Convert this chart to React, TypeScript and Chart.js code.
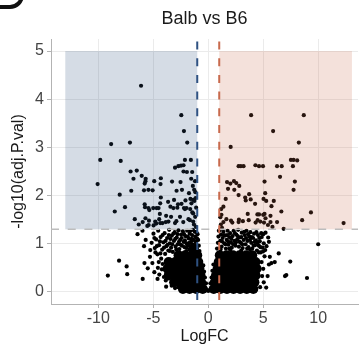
import React, { useEffect, useRef } from 'react';
import { Chart, registerables } from 'chart.js';

Chart.register(...registerables);

const TITLE = 'Balb vs B6';
const X_LABEL = 'LogFC';
const Y_LABEL = '-log10(adj.P.val)';
const X_TICKS = [-10, -5, 0, 5, 10];
const Y_TICKS = [0, 1, 2, 3, 4, 5];
const X_RANGE = [-14.3, 13.62];
const Y_RANGE = [-0.25, 5.25];
const FC_CUT = [-1, 1];
const P_CUT = 1.3;
// [xmin, xmax, ymin, ymax]
const DOWN_BOX = [-13, -1, 1.3, 5];
const UP_BOX = [1, 13.07, 1.3, 5];

// significant, down-regulated (blue box)
const downPoints: [number, number][] = [
  [-6.11, 4.28], [-2.45, 3.67], [-2.21, 3.34], [-8.83, 3.07], [-7.12, 3.1], [-1.91, 3.1],
  [-9.82, 2.74], [-7.96, 2.72], [-2.12, 2.74], [-1.58, 2.74],
  [-3.02, 2.58], [-2.72, 2.61], [-2.48, 2.62], [-2.25, 2.63],
  [-7.06, 2.5], [-6.5, 2.52], [-2.25, 2.5], [-1.94, 2.49], [-1.46, 2.49],
  [-6.8, 2.35], [-6.05, 2.41], [-5.69, 2.35], [-5.71, 2.3], [-5.78, 2.25], [-4.91, 2.3],
  [-4.31, 2.36], [-4.34, 2.24], [-3.29, 2.29], [-2.52, 2.28], [-1.55, 2.35],
  [-10.06, 2.24], [-7.0, 2.1], [-5.84, 2.11], [-5.44, 2.12], [-5.06, 2.11], [-2.88, 2.1],
  [-2.39, 2.12], [-1.28, 2.12], [-1.17, 2.07],
  [-8.05, 2.02], [-4.31, 1.96], [-7.57, 1.76], [-8.5, 1.67],
  [-3.65, 1.87], [-3.11, 1.91], [-2.75, 1.82], [-2.07, 1.9], [-1.62, 1.93], [-1.37, 1.91],
  [-5.78, 1.82], [-5.75, 1.76], [-5.44, 1.74], [-5.0, 1.74], [-4.7, 1.74], [-4.52, 1.74],
  [-3.44, 1.77], [-2.81, 1.75], [-2.21, 1.74],
  [-6.68, 1.51], [-6.32, 1.4], [-5.96, 1.45], [-5.71, 1.53], [-5.39, 1.48], [-5.54, 1.37],
  [-4.97, 1.38], [-4.73, 1.42], [-4.46, 1.51], [-4.16, 1.43], [-3.86, 1.45], [-3.38, 1.56],
  [-2.9, 1.47], [-2.57, 1.56], [-2.27, 1.45], [-1.8, 1.51], [-1.37, 1.46], [-1.19, 1.56],
  [-4.4, 1.62], [-3.83, 1.58], [-2.43, 1.83], [-2.12, 1.72], [-1.64, 1.72], [-1.26, 1.89],
  [-5.36, 1.7], [-4.37, 1.84], [-3.17, 1.74], [-1.98, 1.74], [-1.53, 1.84], [-1.37, 1.63],
  [-1.67, 1.49], [-3.02, 1.43], [-3.62, 1.46], [-4.37, 1.43], [-4.82, 1.46], [-5.42, 1.39],
  [-1.12, 1.35], [-1.3, 1.4], [-1.1, 1.75], [-1.45, 1.65], [-1.15, 1.95], [-1.4, 2.2],
  [-1.75, 2.05], [-1.2, 2.3],
];

// significant, up-regulated (red box)
const upPoints: [number, number][] = [
  [3.9, 3.67], [8.69, 3.67], [5.9, 3.34], [8.24, 3.1], [2.04, 3.01],
  [7.52, 2.74], [7.76, 2.74], [8.09, 2.73], [7.7, 2.61],
  [2.76, 2.61], [2.96, 2.61], [3.21, 2.61], [4.29, 2.63], [4.62, 2.61], [4.98, 2.61],
  [6.26, 2.61], [6.68, 2.61], [6.53, 2.39], [5.12, 2.29], [7.88, 2.29],
  [1.71, 2.28], [2.01, 2.25], [2.34, 2.3], [2.55, 2.26], [2.82, 2.2],
  [1.8, 2.14], [2.37, 2.12], [2.76, 2.01], [5.18, 2.05], [7.76, 2.12], [3.72, 2.03],
  [3.36, 1.96], [3.41, 1.9], [3.86, 1.92], [1.59, 1.93], [4.26, 1.83],
  [5.03, 1.93], [5.27, 1.89], [5.96, 1.89], [5.75, 1.78], [1.38, 1.77], [1.18, 1.72],
  [6.65, 1.67], [9.34, 1.65], [8.54, 1.49], [12.31, 1.43],
  [1.2, 1.6], [1.65, 1.51], [1.38, 1.45], [2.07, 1.48], [2.19, 1.44], [2.79, 1.5],
  [2.76, 1.45], [3.15, 1.47], [3.59, 1.62], [3.68, 1.49], [4.47, 1.61], [4.62, 1.61],
  [5.0, 1.6], [5.12, 1.62], [5.21, 1.53], [4.49, 1.49], [4.31, 1.44], [4.73, 1.46],
  [5.07, 1.44], [5.66, 1.58], [5.66, 1.45], [6.26, 1.45], [6.86, 1.31], [5.84, 1.35],
  [5.43, 1.39], [1.1, 1.55], [1.15, 1.4], [1.25, 1.33],
];

// not significant, left side: scattered points and the ragged top of the cloud
const nsLeft: [number, number][] = [
  [-8.11, 0.65], [-7.42, 0.53], [-9.13, 0.34], [-7.37, 0.37], [-5.96, 0.27], [-4.61, 0.27],
  [-3.83, 0.11], [-3.02, 0.08], [-6.43, 1.2], [-5.98, 1.27], [-5.69, 1.08], [-5.84, 0.95],
  [-5.8, 0.6], [-5.5, 0.49], [-5.27, 0.87], [-5.3, 0.73], [-5.08, 0.6], [-4.9, 0.41],
  [-5.15, 1.02], [-4.98, 1.21], [-4.86, 0.91], [-4.74, 1.09], [-4.62, 0.78], [-4.55, 1.27],
  [-4.47, 0.97], [-4.33, 1.14], [-4.28, 0.69], [-4.19, 0.88], [-4.08, 1.03], [-3.97, 1.22],
  [-3.92, 0.79], [-3.81, 0.95], [-3.74, 1.12], [-3.63, 0.86], [-3.55, 1.29], [-3.49, 1.01],
  [-3.38, 0.92], [-3.31, 1.17], [-3.22, 0.83], [-3.12, 1.06], [-3.05, 1.24], [-2.97, 0.94],
  [-2.86, 1.13], [-2.78, 0.99], [-2.71, 1.28], [-2.63, 0.89], [-2.55, 1.08], [-2.47, 1.19],
  [-2.39, 0.96], [-2.31, 1.26], [-2.24, 1.04], [-2.15, 0.93], [-2.08, 1.16], [-1.99, 1.01],
  [-1.92, 1.27], [-1.84, 0.97], [-1.77, 1.11], [-1.69, 1.21], [-1.62, 0.95], [-1.55, 1.05],
  [-1.47, 1.18], [-1.39, 1.29], [-1.33, 1.08], [-1.26, 0.97], [-1.19, 1.15], [-1.13, 1.04],
  [-1.08, 1.24], [-1.02, 1.11],
  [-4.9, 1.12], [-4.68, 0.95], [-4.4, 1.05], [-4.15, 1.18], [-4.02, 0.92], [-3.88, 1.06],
  [-3.7, 0.98], [-3.58, 1.18], [-3.43, 1.1], [-3.27, 0.99], [-3.17, 1.21], [-3.0, 1.1],
  [-2.9, 0.88], [-2.8, 1.2], [-2.66, 1.04], [-2.5, 0.98], [-2.42, 1.12], [-2.2, 1.2],
  [-2.12, 1.07], [-1.95, 0.92], [-1.88, 1.15], [-1.72, 1.02], [-1.6, 1.27], [-1.5, 1.1],
  [-1.42, 0.99], [-1.22, 1.25], [-1.15, 0.94], [-4.8, 0.82], [-4.35, 0.8], [-3.5, 0.85],
  [-2.0, 0.85], [-1.7, 0.88],
  [-4.45, 0.36], [-4.58, 0.5], [-4.22, 0.47], [-4.5, 0.62], [-4.14, 0.58], [-3.86, 0.24],
  [-4.03, 0.31], [-3.32, 0.13], [-2.74, 0.1],
  [-0.8, 0.85], [-0.86, 0.96], [-0.92, 1.08], [-0.97, 1.2],
];

// not significant, centre notch and right side
const nsRight: [number, number][] = [
  [0, 0.02], [-0.12, 0.04], [0.12, 0.04], [-0.25, 0.08], [0.25, 0.08], [-0.2, 0.18], [0.2, 0.18],
  [-0.3, 0.3], [0.3, 0.3], [-0.38, 0.42], [0.38, 0.44], [-0.45, 0.55], [0.47, 0.57],
  [0.8, 0.9], [0.88, 1.02], [0.93, 1.15], [0.97, 1.27],
  [1.03, 1.28], [1.09, 1.06], [1.16, 1.19], [1.22, 0.94], [1.31, 1.12], [1.38, 1.25],
  [1.45, 1.01], [1.53, 1.17], [1.61, 0.9], [1.68, 1.08], [1.76, 1.27], [1.84, 0.98],
  [1.91, 1.14], [1.99, 1.22], [2.06, 1.03], [2.14, 0.92], [2.22, 1.16], [2.31, 1.27],
  [2.38, 1.06], [2.47, 0.96], [2.55, 1.19], [2.63, 1.09], [2.72, 1.29], [2.79, 0.94],
  [2.88, 1.13], [2.96, 1.02], [3.05, 1.23], [3.13, 0.91], [3.22, 1.08], [3.31, 1.18],
  [3.39, 0.99], [3.48, 1.27], [3.57, 1.06], [3.66, 0.93], [3.74, 1.15], [3.83, 1.24],
  [3.91, 1.02], [4.0, 0.9], [4.08, 1.12], [4.17, 1.21], [4.26, 0.97], [4.34, 1.07],
  [4.43, 0.86], [4.52, 1.18], [4.6, 0.96], [4.69, 1.05], [4.77, 0.82], [4.86, 1.14],
  [4.95, 0.92], [5.05, 1.01], [5.12, 0.74],
  [1.12, 0.88], [1.25, 1.05], [1.42, 1.18], [1.57, 0.99], [1.72, 1.18], [1.8, 1.05],
  [1.95, 0.9], [2.1, 1.1], [2.27, 0.99], [2.42, 1.22], [2.52, 1.03], [2.68, 1.16],
  [2.84, 1.04], [3.0, 1.14], [3.1, 0.99], [3.27, 1.25], [3.44, 1.12], [3.54, 0.9],
  [3.62, 1.2], [3.8, 1.08], [3.97, 1.14], [4.12, 0.96], [4.22, 1.04], [4.38, 1.24],
  [4.48, 1.02], [4.64, 1.12], [4.75, 0.93], [4.82, 1.22], [4.98, 0.84], [4.6, 0.82],
  [2.0, 0.87], [3.0, 0.86], [3.8, 0.88],
  [4.85, 0.62], [5.0, 0.48], [4.9, 0.33], [5.05, 0.2], [4.72, 0.1], [5.18, 0.87], [5.3, 0.95],
  [5.52, 1.04], [6.41, 0.8], [6.05, 0.62], [5.75, 0.6], [5.52, 0.57], [5.4, 0.33], [5.27, 0.09],
  [5.21, 1.23], [5.45, 1.13], [5.6, 0.73], [5.0, 1.2],
  [7.46, 0.63], [6.98, 0.33], [7.1, 0.35], [8.98, 0.29], [10.0, 0.99],
];

// the solid core of the non-significant cloud (drawn with a larger marker)
const corePoints: [number, number][] = [
  [-2.3, 0.06], [-1.7, 0.06], [-1.1, 0.06], [-0.5, 0.06],
  [-3.1, 0.2], [-2.5, 0.2], [-1.9, 0.2], [-1.3, 0.2], [-0.65, 0.2],
  [-3.6, 0.34], [-3.0, 0.34], [-2.4, 0.34], [-1.8, 0.34], [-1.25, 0.34], [-0.7, 0.34],
  [-3.7, 0.48], [-3.1, 0.48], [-2.5, 0.48], [-1.9, 0.48], [-1.35, 0.48], [-0.8, 0.48],
  [-3.6, 0.62], [-3.0, 0.62], [-2.4, 0.62], [-1.8, 0.62], [-1.25, 0.62], [-0.9, 0.62],
  [-2.7, 0.76], [-2.1, 0.76], [-1.5, 0.76], [-1.0, 0.76], [-1.3, 0.9],
  [0.5, 0.06], [1.1, 0.06], [1.7, 0.06], [2.3, 0.06], [2.9, 0.06], [3.5, 0.06], [4.1, 0.06],
  [0.6, 0.2], [1.2, 0.2], [1.8, 0.2], [2.4, 0.2], [3.0, 0.2], [3.6, 0.2], [4.2, 0.2],
  [0.7, 0.34], [1.3, 0.34], [1.9, 0.34], [2.5, 0.34], [3.1, 0.34], [3.7, 0.34], [4.3, 0.34],
  [0.85, 0.48], [1.45, 0.48], [2.05, 0.48], [2.65, 0.48], [3.25, 0.48], [3.85, 0.48], [4.4, 0.48],
  [0.95, 0.62], [1.55, 0.62], [2.15, 0.62], [2.75, 0.62], [3.35, 0.62], [3.95, 0.62], [4.3, 0.62],
  [1.05, 0.76], [1.65, 0.76], [2.25, 0.76], [2.85, 0.76], [3.45, 0.76], [4.0, 0.76],
];

const FONT = "'Liberation Sans', Arial, sans-serif";

const toXY = (arr: [number, number][]) => arr.map(([x, y]) => ({ x, y }));

const overlayPlugin = {
  id: 'volcanoOverlay',
  afterDatasetsDraw(chart: any) {
    const { ctx, chartArea: a, scales } = chart;
    const xs = scales.x;
    const ys = scales.y;
    ctx.save();
    ctx.beginPath();
    ctx.rect(a.left, a.top, a.right - a.left, a.bottom - a.top);
    ctx.clip();
    const box = (b: number[], color: string) => {
      const x0 = xs.getPixelForValue(b[0]);
      const x1 = xs.getPixelForValue(b[1]);
      const y0 = ys.getPixelForValue(b[3]);
      const y1 = ys.getPixelForValue(b[2]);
      ctx.fillStyle = color;
      ctx.fillRect(x0, y0, x1 - x0, y1 - y0);
    };
    box(DOWN_BOX, 'rgba(44,79,124,0.2)');
    box(UP_BOX, 'rgba(200,103,74,0.2)');

    ctx.setLineDash([8, 8.7]);
    const yp = ys.getPixelForValue(P_CUT);
    ctx.strokeStyle = '#bdbdbd';
    ctx.lineWidth = 1.6;
    ctx.lineDashOffset = 0;
    ctx.beginPath();
    ctx.moveTo(a.left, yp);
    ctx.lineTo(a.right, yp);
    ctx.stroke();
    const vline = (v: number, color: string) => {
      const xp = xs.getPixelForValue(v);
      ctx.strokeStyle = color;
      ctx.lineWidth = 2;
      ctx.lineDashOffset = 14.2;
      ctx.beginPath();
      ctx.moveTo(xp, a.top);
      ctx.lineTo(xp, a.bottom);
      ctx.stroke();
    };
    vline(FC_CUT[0], '#2f5282');
    vline(FC_CUT[1], '#c86a4d');
    ctx.restore();
  },
};

export default function App() {
  const ref = useRef<HTMLCanvasElement>(null);
  useEffect(() => {
    if (!ref.current) return;
    const pointDs = (label: string, arr: [number, number][], r: number) => ({
      label,
      data: toXY(arr),
      pointRadius: r,
      pointHoverRadius: r,
      pointBackgroundColor: '#000',
      pointBorderWidth: 0,
      borderWidth: 0,
      showLine: false,
    });
    const chart = new Chart(ref.current, {
      type: 'scatter',
      data: {
        datasets: [
          pointDs('core', corePoints, 5),
          pointDs('nsLeft', nsLeft, 2.1),
          pointDs('nsRight', nsRight, 2.1),
          pointDs('down', downPoints, 2.1),
          pointDs('up', upPoints, 2.1),
        ],
      },
      options: {
        animation: false,
        responsive: false,
        devicePixelRatio: 1,
        layout: { padding: { left: 0, right: 1, top: 0, bottom: 0 } },
        plugins: {
          legend: { display: false },
          tooltip: { enabled: false },
          title: {
            display: true,
            text: TITLE,
            fullSize: false,
            color: '#1a1a1a',
            font: { family: FONT, size: 18, weight: 'normal' },
            padding: { top: 8, bottom: 9.4 },
          },
        },
        scales: {
          x: {
            type: 'linear',
            min: X_RANGE[0],
            max: X_RANGE[1],
            afterBuildTicks: (s: any) => {
              s.ticks = X_TICKS.map((v) => ({ value: v }));
            },
            afterFit: (s: any) => {
              s.height = 52;
            },
            grid: { color: '#ebebeb', lineWidth: 1, tickColor: '#b3b3b3', tickLength: 4, drawTicks: true },
            border: { display: true, color: '#b3b3b3', width: 1 },
            ticks: {
              color: '#444',
              padding: 1,
              maxRotation: 0,
              font: { family: FONT, size: 16 },
              callback: (v: any) => String(v),
            },
            title: {
              display: true,
              text: X_LABEL,
              color: '#1a1a1a',
              font: { family: FONT, size: 16 },
              padding: { top: 0, bottom: 10 },
            },
          },
          y: {
            type: 'linear',
            min: Y_RANGE[0],
            max: Y_RANGE[1],
            afterBuildTicks: (s: any) => {
              s.ticks = Y_TICKS.map((v) => ({ value: v }));
            },
            afterFit: (s: any) => {
              s.width = 51;
            },
            grid: { color: '#ebebeb', lineWidth: 1, tickColor: '#b3b3b3', tickLength: 4, drawTicks: true },
            border: { display: true, color: '#b3b3b3', width: 1 },
            ticks: {
              color: '#444',
              padding: 3,
              font: { family: FONT, size: 16 },
              callback: (v: any) => String(v),
            },
            title: {
              display: true,
              text: Y_LABEL,
              color: '#1a1a1a',
              font: { family: FONT, size: 16 },
              padding: { top: 9, bottom: 0 },
            },
          },
        },
      },
      plugins: [overlayPlugin],
    } as any);
    return () => chart.destroy();
  }, []);

  return (
    <div
      style={{
        position: 'fixed',
        left: 0,
        top: 0,
        width: 363,
        height: 356,
        background: '#fff',
        overflow: 'hidden',
      }}
    >
      <canvas ref={ref} width={363} height={356} style={{ display: 'block', width: 363, height: 356 }} />
      <div
        style={{
          position: 'absolute',
          left: -20,
          top: -16,
          width: 40,
          height: 21,
          borderRight: '4.5px solid #111',
          borderBottom: '4.5px solid #111',
          borderBottomRightRadius: 14,
        }}
      />
    </div>
  );
}
